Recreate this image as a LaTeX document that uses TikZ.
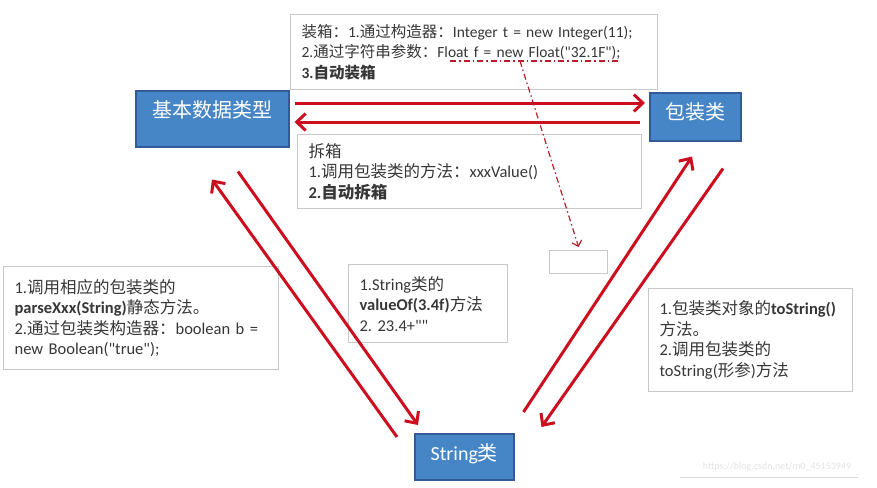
\documentclass[tikz,border=0pt]{standalone}
\usepackage{fontspec}
\setmainfont{Carlito}[Ligatures=TeXOff]
\newfontfamily\zhfont{Noto Sans CJK SC}
\newcommand \zh [1]{{\zhfont #1}}
\usepackage{tikz}
\usetikzlibrary{arrows.meta}
\usetikzlibrary{positioning}
\definecolor{boxblue}{RGB}{70,134,198}
\definecolor{boxedge}{RGB}{50,90,150}
\definecolor{arrowred}{RGB}{204,14,30}
\definecolor{hintred}{RGB}{185,30,45}
\definecolor{notegray}{RGB}{200,200,200}
\definecolor{notetext}{RGB}{55,55,55}
\tikzstyle{typebox}=[rectangle,draw=boxedge,fill=boxblue,text=white,line width=1.5,anchor=north west,inner sep=0mm,font=\fontsize{20}{24}\selectfont]
\tikzstyle{note}=[rectangle,draw=notegray,fill=white,line width=1.2,anchor=north west,inner xsep=11pt,inner ysep=0pt,align=left,text=notetext,font=\fontsize{16.5}{20.5}\selectfont\frenchspacing]
\tikzstyle{conv}=[-{Straight Barb[length=9pt,width=17pt]},draw=arrowred,line width=3]
\tikzstyle{hint}=[draw=hintred,line width=1.2,dash pattern=on 6pt off 3pt on 1.5pt off 3pt]
\tikzset{every picture/.style={
    x=1pt,y=-1pt
  }
}

\begin{document}
\frenchspacing
\begin{tikzpicture}
        \useasboundingbox (0,0) rectangle (877,487);
        \node[typebox,minimum width=153,minimum height=56,text depth=20pt] at (135,90) (basic) {\zh{基本数据类型}};
        \node[typebox,minimum width=91,minimum height=48,text depth=12pt] at (649,92) (wrap) {\zh{包装类}};
        \node[typebox,minimum width=99,minimum height=46,text depth=10pt] at (414,433) (str) {String\zh{类}};
        \node[note,text width=345,minimum height=75,font=\fontsize{15.5}{20.5}\selectfont\frenchspacing] at (290,14) (boxing) {\zh{装箱：}1.\zh{通过构造器：}Integer t = new Integer(11);\\
          2.\zh{通过字符串参数：}Float f = new Float("32.1F");\\
          \textbf{3.\zh{自动装箱}}};
        \node[note,text width=322,minimum height=74] at (297,134) (unboxing) {\zh{拆箱}\\
          1.\zh{调用包装类的方法：}xxxValue()\\
          \textbf{2.\zh{自动拆箱}}};
        \node[note,text width=253,minimum height=103] at (3,266) (parse) {1.\zh{调用相应的包装类的}\\
          \textbf{parseXxx(String)}\zh{静态方法。}\\
          2.\zh{通过包装类构造器：}boolean b =\\
          new Boolean("true");};
        \node[note,text width=137,minimum height=78] at (348,264) (valof) {1.String\zh{类的}\\
          \textbf{valueOf(3.4f)}\zh{方法}\\
          2. 23.4+""};
        \node[note,text width=182,minimum height=103] at (648,288) (tostr) {1.\zh{包装类对象的}\textbf{toString()}\\
          \zh{方法。}\\
          2.\zh{调用包装类的}\\
          toString(\zh{形参})\zh{方法}};
        \node[note,minimum width=58,minimum height=23] at (549,250) (blank) {};
        % boxing / unboxing
        \draw[conv] ([shift={(5,13)}]basic.north east) to ([shift={(-4,11)}]wrap.north west);
        \draw[conv] ([shift={(-9,30)}]wrap.north west) to ([shift={(5,32)}]basic.north east);
        % basic <-> String
        \draw[conv] ([shift={(-17,4)}]str.north west) to ([shift={(77,32)}]basic.south west);
        \draw[conv] ([shift={(103,24)}]basic.south west) to ([shift={(4,-8)}]str.north west);
        % wrapper <-> String
        \draw[conv] ([shift={(9,-21)}]str.north east) to ([shift={(43,15)}]wrap.south west);
        \draw[conv] ([shift={(74,27)}]wrap.south west) to ([shift={(27,-6)}]str.north east);
        % hint on the Float line
        \draw[hint] (450,61) -- (620,61);
        \coordinate (flt) at (520,61);
        \draw[hint,-{Straight Barb[length=5pt,width=10pt]}] (flt) to ([yshift=3pt]blank.north);
        \node[text=gray!22,font=\fontsize{10}{12}\selectfont] at (777,467) (url) {https://blog.csdn.net/m0\_45153949};
        \draw[gray!30,line width=1] (680,477) -- (858,477);
      \end{tikzpicture}
\end{document}
